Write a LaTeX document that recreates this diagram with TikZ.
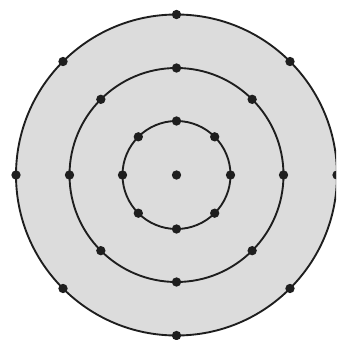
\documentclass[tikz,border=0pt]{standalone}
\usepackage{tikz}
\usetikzlibrary{positioning, calc}
\definecolor{discGray}{HTML}{DCDCDC}
\definecolor{ringInk}{HTML}{1E1E1E}

\begin{document}
\begin{tikzpicture}[
  x=0.03cm, y=-0.03cm,
  ring/.style={draw=ringInk, line width=1.6pt},
  dot/.style={circle, fill=ringInk, inner sep=0pt, minimum size=0.28cm}
]
  \useasboundingbox (0,0) rectangle (336,340);
  \clip (0,0) rectangle (336,340);
  \coordinate (c) at (176.5,175);

  \fill[discGray] (c) circle (160.5);
  \foreach \r in {160.5, 107, 54}
    \draw[ring] (c) circle (\r);

  \node[dot] (core) at (c) {};
  \foreach \r/\n in {54/inner, 107/mid, 160.5/outer}
    \foreach \a in {0, 45, ..., 315}
      \node[dot] (\n-\a) at ($(c)+(\a:\r)$) {};
\end{tikzpicture}
\end{document}
